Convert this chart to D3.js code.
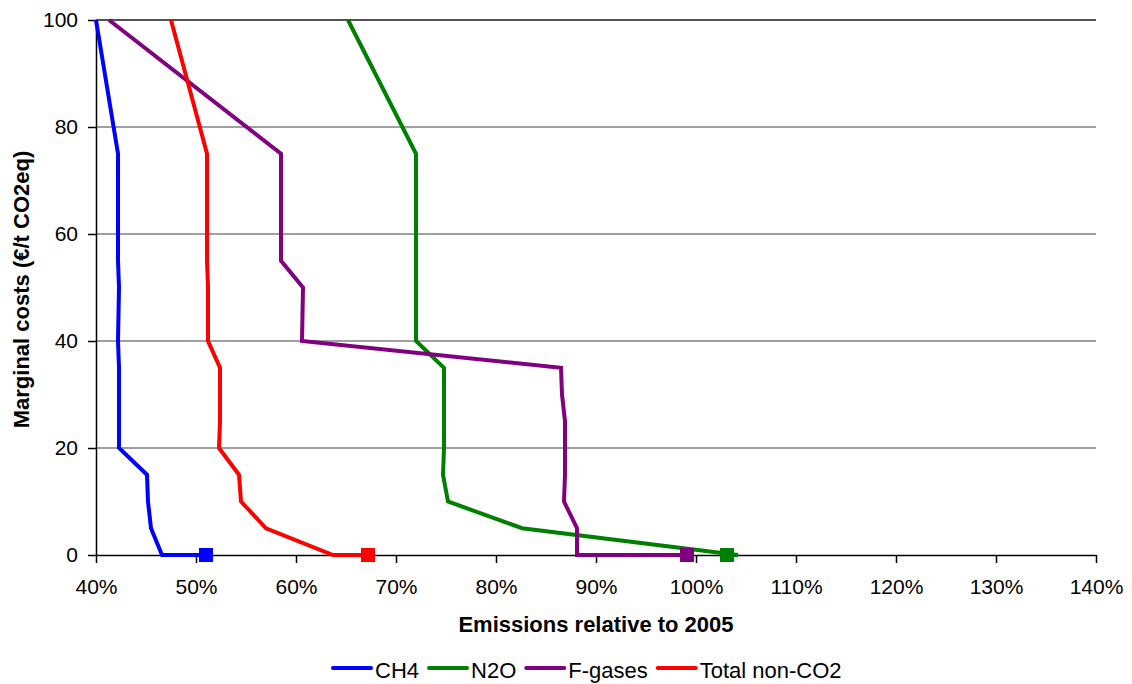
<!DOCTYPE html>
<html>
<head>
<meta charset="utf-8">
<script src="https://cdn.jsdelivr.net/npm/d3@7"></script>
<style>
  body { margin: 0; background: #fff; overflow: hidden; }
  svg { display: block; }
  text { font-family: "Liberation Sans", Arial, sans-serif; fill: #000; }
</style>
</head>
<body>
<div id="container"></div>
<script>
  // cost levels (€/t CO2eq) and emissions relative to 2005 for each gas
  const costs = [0, 5, 10, 15, 20, 25, 30, 35, 40, 50, 55, 75, 100];
  const ch4   = [0.466, 0.455, 0.452, 0.451, 0.423, 0.423, 0.423, 0.423, 0.422, 0.423, 0.422, 0.422, 0.400];
  const n2o   = [1.042, 0.826, 0.752, 0.747, 0.748, 0.748, 0.748, 0.748, 0.720, 0.720, 0.720, 0.720, 0.652];
  const fgas  = [0.881, 0.881, 0.868, 0.869, 0.869, 0.869, 0.866, 0.865, 0.606, 0.607, 0.585, 0.585, 0.413];
  const total = [0.637, 0.570, 0.545, 0.543, 0.523, 0.524, 0.524, 0.524, 0.512, 0.512, 0.511, 0.511, 0.475];

  // baseline points (square markers)
  const baseline = [0.510, 1.031, 0.991, 0.672];

  const seriesNames = ["CH4", "N2O", "F-gases", "Total non-CO2"];
  const seriesColors = ["#0000ff", "#008000", "#800080", "#ff0000"];
  const seriesValues = [ch4, n2o, fgas, total];

  const xTicks = [0.4, 0.5, 0.6, 0.7, 0.8, 0.9, 1.0, 1.1, 1.2, 1.3, 1.4];
  const yTicks = [0, 20, 40, 60, 80, 100];

  const width = 1132;
  const height = 684;
  const margin = {top: 20, right: 36, bottom: 129, left: 96};

  const x = d3.scaleLinear().domain([0.4, 1.4]).range([margin.left, width - margin.right]);
  const y = d3.scaleLinear().domain([0, 100]).range([height - margin.bottom, margin.top]);

  const svg = d3.create("svg")
      .attr("width", width)
      .attr("height", height);

  // attach early so text lengths can be measured
  container.append(svg.node());

  // gridlines
  svg.append("g")
    .selectAll("line")
    .data(yTicks.filter(d => d > 0))
    .join("line")
      .attr("x1", x(0.4))
      .attr("x2", x(1.4))
      .attr("y1", d => y(d))
      .attr("y2", d => y(d))
      .attr("stroke", d => d === 100 ? "#1a1a1a" : "#808080")
      .attr("stroke-width", 1.5);

  // axes
  const xAxis = svg.append("g")
      .attr("transform", `translate(0,${y(0)})`)
      .call(d3.axisBottom(x).tickValues(xTicks).tickFormat(d3.format(".0%"))
        .tickSize(8).tickSizeOuter(0).tickPadding(16));

  const yAxis = svg.append("g")
      .attr("transform", `translate(${x(0.4)},0)`)
      .call(d3.axisLeft(y).tickValues(yTicks).tickSize(8).tickSizeOuter(0).tickPadding(10));

  [xAxis, yAxis].forEach(a => {
    a.select(".domain").attr("stroke", "#000").attr("stroke-width", 1.5);
    a.selectAll(".tick line").attr("stroke", "#000").attr("stroke-width", 1.5);
    a.selectAll(".tick text")
      .attr("font-size", 21)
      .attr("font-family", "Liberation Sans, Arial, sans-serif")
      .attr("fill", "#000");
  });

  // series lines
  const line = d3.line()
      .x(d => x(d[0]))
      .y(d => y(d[1]));

  seriesValues.forEach((vals, i) => {
    const pts = [[baseline[i], 0]].concat(vals.map((v, j) => [v, costs[j]]));
    svg.append("path")
        .datum(pts)
        .attr("fill", "none")
        .attr("stroke", seriesColors[i])
        .attr("stroke-width", 4)
        .attr("d", line);
  });

  // baseline markers
  svg.append("g")
    .selectAll("rect")
    .data(baseline)
    .join("rect")
      .attr("x", d => x(d) - 7)
      .attr("y", y(0) - 7)
      .attr("width", 14)
      .attr("height", 14)
      .attr("fill", (d, i) => seriesColors[i]);

  // axis titles
  svg.append("text")
      .attr("x", (x(0.4) + x(1.4)) / 2)
      .attr("y", 632)
      .attr("text-anchor", "middle")
      .attr("font-size", 22)
      .attr("font-weight", "bold")
      .text("Emissions relative to 2005");

  svg.append("text")
      .attr("transform", `translate(29,${(y(0) + y(100)) / 2 + 2}) rotate(-90)`)
      .attr("text-anchor", "middle")
      .attr("font-size", 22)
      .attr("font-weight", "bold")
      .text("Marginal costs (€/t CO2eq)");

  // legend
  const legend = svg.append("g");
  let lx = 333;
  seriesNames.forEach((name, i) => {
    legend.append("line")
        .attr("x1", lx)
        .attr("x2", lx + 38)
        .attr("y1", 668)
        .attr("y2", 668)
        .attr("stroke", seriesColors[i])
        .attr("stroke-width", 4)
        .attr("stroke-linecap", "round");
    const t = legend.append("text")
        .attr("x", lx + 42)
        .attr("y", 678)
        .attr("font-size", 22)
        .text(name);
    lx += 42 + t.node().getComputedTextLength() + 10;
  });
</script>
</body>
</html>
